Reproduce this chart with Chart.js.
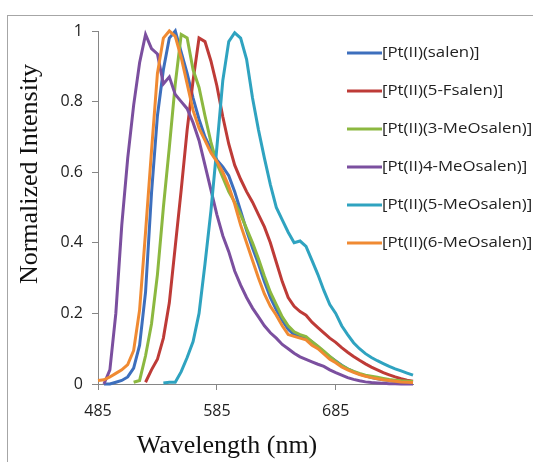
<!DOCTYPE html>
<html>
<head>
<meta charset="utf-8">
<script src="https://cdn.jsdelivr.net/npm/chart.js@4.4.0/dist/chart.umd.min.js"></script>
<style>
  html, body { margin: 0; padding: 0; background: #fff; }
  canvas { display: block; }
</style>
</head>
<body>
<canvas id="myChart" width="533" height="462"></canvas>
<script>
// wavelength grid (nm)
const wavelengths = [485, 490, 495, 500, 505, 510, 515, 520, 525, 530, 535, 540, 545, 550, 555, 560, 565, 570,
  575, 580, 585, 590, 595, 600, 605, 610, 615, 620, 625, 630, 635, 640, 645, 650, 655, 660, 665, 670,
  675, 680, 685, 690, 695, 700, 705, 710, 715, 720, 725, 730, 735, 740, 745, 750];

const names = ['[Pt(II)(salen)]', '[Pt(II)(5-Fsalen)]', '[Pt(II)(3-MeOsalen)]',
  '[Pt(II)4-MeOsalen)]', '[Pt(II)(5-MeOsalen)]', '[Pt(II)(6-MeOsalen)]'];

const salen = [null, 0, 0, 0.005, 0.01, 0.02, 0.045, 0.11, 0.26, 0.54, 0.76, 0.89, 0.98, 1.0, 0.94, 0.88,
  0.81, 0.75, 0.70, 0.665, 0.635, 0.615, 0.59, 0.545, 0.49, 0.435, 0.385, 0.34, 0.29, 0.245, 0.21, 0.18,
  0.155, 0.14, 0.135, 0.13, 0.12, 0.105, 0.09, 0.077, 0.065, 0.053, 0.043, 0.035, 0.028, 0.023, 0.018,
  0.015, 0.012, 0.01, 0.008, 0.006, 0.005, 0.004];

const fsalen5 = [null, null, null, null, null, null, null, null, 0.005, 0.04, 0.07, 0.13, 0.23, 0.39, 0.55,
  0.72, 0.86, 0.98, 0.97, 0.915, 0.845, 0.757, 0.68, 0.62, 0.58, 0.545, 0.515, 0.48, 0.445, 0.40, 0.345,
  0.29, 0.245, 0.22, 0.205, 0.195, 0.175, 0.16, 0.145, 0.13, 0.118, 0.103, 0.09, 0.078, 0.067, 0.057,
  0.048, 0.04, 0.032, 0.026, 0.02, 0.015, 0.011, 0.008];

const meo3 = [null, null, null, null, null, null, 0.005, 0.01, 0.08, 0.17, 0.31, 0.5, 0.67, 0.85, 0.99,
  0.98, 0.89, 0.84, 0.76, 0.685, 0.625, 0.585, 0.545, 0.515, 0.48, 0.44, 0.40, 0.355, 0.305, 0.26, 0.225,
  0.19, 0.165, 0.148, 0.14, 0.134, 0.12, 0.107, 0.093, 0.078, 0.064, 0.052, 0.043, 0.036, 0.03, 0.025,
  0.022, 0.019, 0.016, 0.013, 0.011, 0.009, 0.008, 0.007];

const meo4 = [null, 0, 0.04, 0.2, 0.45, 0.64, 0.79, 0.91, 0.99, 0.95, 0.935, 0.85, 0.87, 0.82, 0.80, 0.78,
  0.74, 0.69, 0.62, 0.55, 0.48, 0.42, 0.375, 0.32, 0.28, 0.245, 0.215, 0.19, 0.165, 0.145, 0.13, 0.112,
  0.1, 0.087, 0.077, 0.07, 0.063, 0.056, 0.05, 0.04, 0.032, 0.025, 0.018, 0.013, 0.009, 0.006, 0.004,
  0.003, 0.002, 0.001, 0.001, 0, 0, 0];

const meo5 = [null, null, null, null, null, null, null, null, null, null, null, 0.003, 0.005, 0.005, 0.035,
  0.075, 0.12, 0.2, 0.34, 0.49, 0.67, 0.86, 0.97, 0.995, 0.98, 0.92, 0.81, 0.72, 0.64, 0.565, 0.5, 0.465,
  0.43, 0.40, 0.405, 0.39, 0.35, 0.31, 0.265, 0.225, 0.2, 0.165, 0.14, 0.117, 0.1, 0.086, 0.075, 0.066,
  0.058, 0.05, 0.043, 0.037, 0.031, 0.025];

const meo6 = [0.01, 0.012, 0.02, 0.03, 0.04, 0.055, 0.095, 0.21, 0.43, 0.66, 0.88, 0.98, 1.0, 0.985, 0.925,
  0.85, 0.775, 0.725, 0.69, 0.655, 0.63, 0.6, 0.56, 0.51, 0.45, 0.40, 0.35, 0.30, 0.255, 0.22, 0.195,
  0.165, 0.14, 0.135, 0.13, 0.125, 0.11, 0.1, 0.085, 0.07, 0.06, 0.048, 0.04, 0.033, 0.027, 0.022, 0.018,
  0.015, 0.012, 0.01, 0.008, 0.006, 0.005, 0.004];

const series = [salen, fsalen5, meo3, meo4, meo5, meo6];
const colors = ['#3d6fbd', '#be3b37', '#8cb840', '#7b4f9f', '#2fa3c0', '#f08a32'];

const xTicks = [485, 585, 685];
const yTicks = [0, 0.2, 0.4, 0.6, 0.8, 1];

const axisGray = '#868686';
const tickFont = { family: 'Open Sans', size: 16 };

const extras = {
  id: 'extras',
  beforeDraw(chart) {
    const { ctx } = chart;
    ctx.save();
    ctx.fillStyle = '#fff';
    ctx.fillRect(0, 0, chart.width, chart.height);
    ctx.strokeStyle = '#a6a6a6';
    ctx.lineWidth = 1;
    ctx.strokeRect(7.5, 15.5, chart.width, chart.height);
    ctx.restore();
  },
  afterDraw(chart) {
    const { ctx } = chart;
    ctx.save();
    ctx.fillStyle = '#111';
    ctx.font = '26px "Liberation Serif"';
    ctx.textAlign = 'center';
    ctx.textBaseline = 'alphabetic';
    ctx.fillText('Wavelength (nm)', 227, 453);
    ctx.translate(37, 174);
    ctx.rotate(-Math.PI / 2);
    ctx.fillText('Normalized Intensity', 0, 0);
    ctx.restore();

    // legend
    ctx.save();
    ctx.font = '15px "Open Sans"';
    const sx = 97.6 / ctx.measureText(names[0]).width;
    names.forEach((name, i) => {
      const y = 53 + 38 * i;
      ctx.strokeStyle = colors[i];
      ctx.lineWidth = 3;
      ctx.beginPath();
      ctx.moveTo(347, y);
      ctx.lineTo(382, y);
      ctx.stroke();
      ctx.save();
      ctx.translate(382, y);
      ctx.scale(sx, 1);
      ctx.fillStyle = '#222';
      ctx.textBaseline = 'middle';
      ctx.fillText(name, 0, 0);
      ctx.restore();
    });
    ctx.restore();
  },
};

const ctx = document.getElementById('myChart').getContext('2d');
new Chart(ctx, {
  type: 'line',
  data: {
    datasets: series.map((vals, i) => ({
      label: names[i],
      data: vals.map((v, j) => ({ x: wavelengths[j], y: v })),
      borderColor: colors[i],
      backgroundColor: colors[i],
      borderWidth: 3,
      pointRadius: 0,
      tension: 0,
      clip: false,
      order: -i,
    })),
  },
  options: {
    responsive: false,
    animation: false,
    layout: { padding: { left: 0, top: 31, right: 120, bottom: 0 } },
    plugins: { legend: { display: false }, tooltip: { enabled: false } },
    scales: {
      x: {
        type: 'linear',
        min: 485,
        max: 750,
        afterBuildTicks: (s) => { s.ticks = xTicks.map((v) => ({ value: v })); },
        afterFit: (s) => { s.height = 78; },
        grid: { drawOnChartArea: false, drawTicks: true, tickLength: 6, color: axisGray },
        border: { color: axisGray },
        ticks: { padding: 12, font: tickFont, color: '#222' },
      },
      y: {
        min: 0,
        max: 1,
        afterBuildTicks: (s) => { s.ticks = yTicks.map((v) => ({ value: v })); },
        afterFit: (s) => { s.width = 98; },
        grid: { drawOnChartArea: false, drawTicks: true, tickLength: 6, color: axisGray },
        border: { color: axisGray },
        ticks: { padding: 9, font: tickFont, color: '#222', callback: (v) => String(v) },
      },
    },
  },
  plugins: [extras],
});
</script>
</body>
</html>
